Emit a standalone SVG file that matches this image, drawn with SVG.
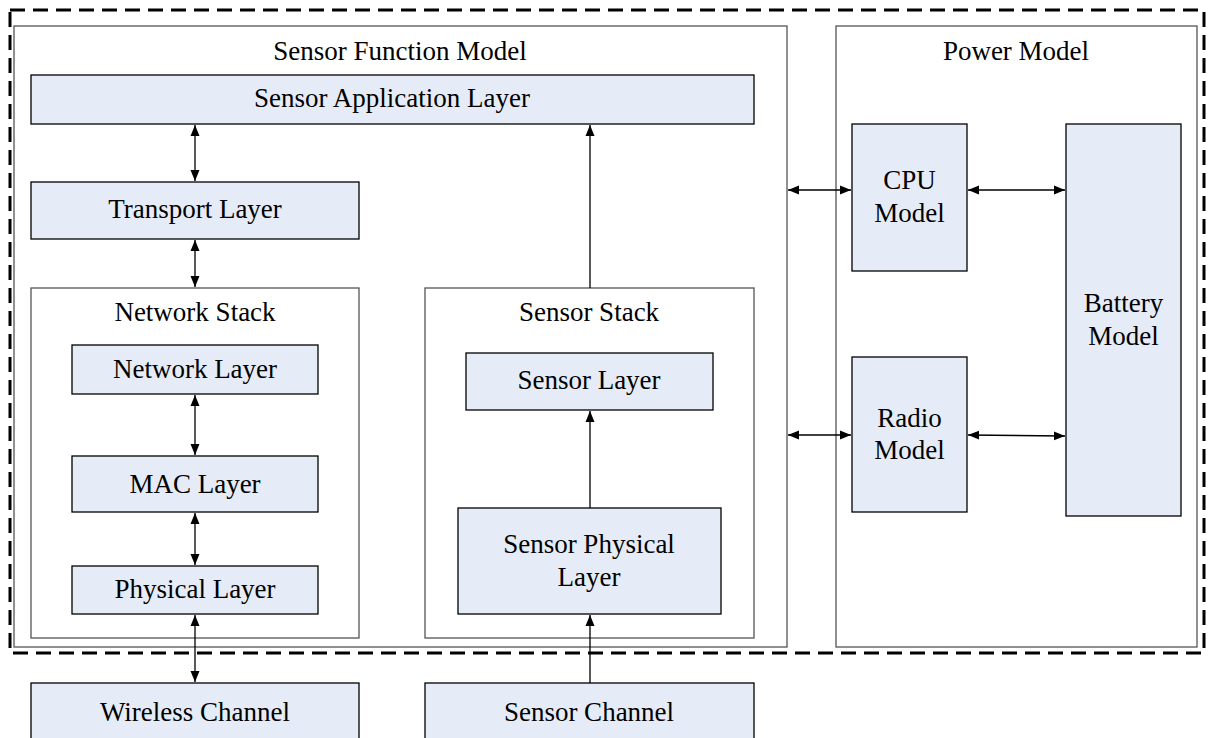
<svg xmlns="http://www.w3.org/2000/svg" width="1211" height="738" viewBox="0 0 1211 738">
<style>
text{font-family:"Liberation Serif","Times New Roman",serif;font-size:27px;fill:#000;text-anchor:middle}
.cont{fill:#fff;stroke:#555;stroke-width:1.3}
.layer{fill:#E6ECF7;stroke:#000;stroke-width:1.3}
.conn{stroke:#000;stroke-width:1.3;fill:none}
.dash{fill:none;stroke:#000;stroke-width:3;stroke-dasharray:15 8}
</style>
<defs>
<marker id="ah" markerWidth="12" markerHeight="10" refX="11" refY="5" orient="auto-start-reverse" markerUnits="userSpaceOnUse">
<path d="M0,0.5 L11,5 L0,9.5 z" fill="#000"/>
</marker>
</defs>
<rect width="1211" height="738" fill="#fff"/>
<rect class="dash" x="10" y="10" width="1194" height="643"/>
<g id="sensor-function-model">
<rect class="cont" x="14" y="26" width="773" height="621"/>
<text x="400" y="60">Sensor Function Model</text>
</g>
<g id="power-model">
<rect class="cont" x="836" y="26" width="361" height="621"/>
<text x="1016" y="60">Power Model</text>
</g>
<g id="sensor-application-layer">
<rect class="layer" x="31" y="75" width="723" height="49"/>
<text x="392" y="107">Sensor Application Layer</text>
</g>
<g id="transport-layer">
<rect class="layer" x="31" y="182" width="328" height="57"/>
<text x="195" y="218">Transport Layer</text>
</g>
<g id="network-stack">
<rect class="cont" x="31" y="288" width="328" height="350"/>
<text x="195" y="321">Network Stack</text>
</g>
<g id="network-layer">
<rect class="layer" x="72" y="345" width="246" height="49"/>
<text x="195" y="378">Network Layer</text>
</g>
<g id="mac-layer">
<rect class="layer" x="72" y="456" width="246" height="56"/>
<text x="195" y="493">MAC Layer</text>
</g>
<g id="physical-layer">
<rect class="layer" x="72" y="566" width="246" height="48"/>
<text x="195" y="598">Physical Layer</text>
</g>
<g id="sensor-stack">
<rect class="cont" x="425" y="288" width="329" height="350"/>
<text x="589" y="321">Sensor Stack</text>
</g>
<g id="sensor-layer">
<rect class="layer" x="466" y="353" width="247" height="57"/>
<text x="589" y="389">Sensor Layer</text>
</g>
<g id="sensor-physical-layer">
<rect class="layer" x="458" y="508" width="263" height="106"/>
<text x="589" y="553">Sensor Physical</text>
<text x="589" y="586">Layer</text>
</g>
<g id="wireless-channel">
<rect class="layer" x="31" y="683" width="328" height="70"/>
<text x="195" y="721">Wireless Channel</text>
</g>
<g id="sensor-channel">
<rect class="layer" x="425" y="683" width="329" height="70"/>
<text x="589" y="721">Sensor Channel</text>
</g>
<g id="cpu-model">
<rect class="layer" x="852" y="124" width="115" height="147"/>
<text x="909.5" y="189">CPU</text>
<text x="909.5" y="222">Model</text>
</g>
<g id="radio-model">
<rect class="layer" x="852" y="357" width="115" height="155"/>
<text x="909.5" y="427">Radio</text>
<text x="909.5" y="459">Model</text>
</g>
<g id="battery-model">
<rect class="layer" x="1066" y="124" width="115" height="392"/>
<text x="1123.5" y="312">Battery</text>
<text x="1123.5" y="345">Model</text>
</g>
<g id="connectors">
<line class="conn" x1="195" y1="125" x2="195" y2="181" marker-start="url(#ah)" marker-end="url(#ah)"/>
<line class="conn" x1="195" y1="240" x2="195" y2="287" marker-start="url(#ah)" marker-end="url(#ah)"/>
<line class="conn" x1="195" y1="395" x2="195" y2="455" marker-start="url(#ah)" marker-end="url(#ah)"/>
<line class="conn" x1="195" y1="513" x2="195" y2="565" marker-start="url(#ah)" marker-end="url(#ah)"/>
<line class="conn" x1="195" y1="615" x2="195" y2="682" marker-start="url(#ah)" marker-end="url(#ah)"/>
<line class="conn" x1="590" y1="288" x2="590" y2="125" marker-end="url(#ah)"/>
<line class="conn" x1="590" y1="508" x2="590" y2="411" marker-end="url(#ah)"/>
<line class="conn" x1="590" y1="683" x2="590" y2="615" marker-end="url(#ah)"/>
<line class="conn" x1="788" y1="190" x2="851" y2="190" marker-start="url(#ah)" marker-end="url(#ah)"/>
<line class="conn" x1="968" y1="190" x2="1065" y2="190" marker-start="url(#ah)" marker-end="url(#ah)"/>
<line class="conn" x1="788" y1="435" x2="851" y2="435" marker-start="url(#ah)" marker-end="url(#ah)"/>
<line class="conn" x1="968" y1="435" x2="1065" y2="436" marker-start="url(#ah)" marker-end="url(#ah)"/>
</g>
</svg>
